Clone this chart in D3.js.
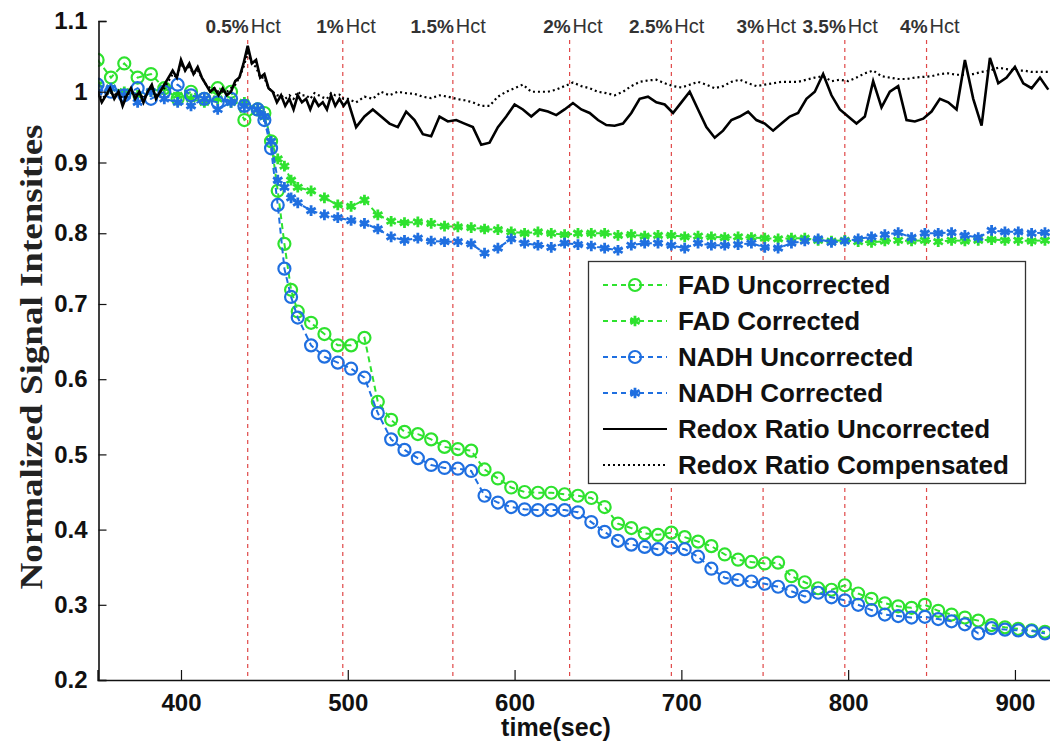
<!DOCTYPE html>
<html>
<head>
<meta charset="utf-8">
<script src="https://cdn.jsdelivr.net/npm/d3@7"></script>
<style>
  body { margin: 0; background: #fff; }
  svg { display: block; font-family: "Liberation Sans", Arial, sans-serif; }
</style>
</head>
<body>
<script>
var width = 1050;
var height = 745;

// sample times of the marker series (sec)
var markTimes = [350,358,366,374,382,390,398,406,414,422,430,438,446,450,454,458,462,466,
  470,478,486,494,502,510,518,526,534,542,550,558,566,574,582,590,598,606,614,622,630,638,
  646,654,662,670,678,686,694,702,710,718,726,734,742,750,758,766,774,782,790,798,806,814,
  822,830,838,846,854,862,870,878,886,894,902,910,918];

var fadUncorrected = [1.045,1.02,1.04,1.02,1.025,1.005,0.99,1.0,0.99,1.005,1.0,0.96,0.975,
  0.97,0.93,0.86,0.785,0.72,
  0.69,0.675,0.66,0.645,0.645,0.655,0.57,0.546,0.53,0.527,0.52,0.51,0.507,0.505,0.48,0.468,
  0.456,0.45,0.449,0.449,0.447,0.445,0.442,0.43,0.408,0.402,0.395,0.393,0.396,0.39,0.384,
  0.378,0.367,0.36,0.357,0.355,0.356,0.338,0.33,0.322,0.32,0.326,0.315,0.308,0.302,0.298,
  0.296,0.3,0.292,0.287,0.283,0.279,0.273,0.27,0.268,0.266,0.264];

var fadCorrected = [1.01,1.005,1.0,0.995,1.0,1.005,0.995,0.99,0.985,0.99,0.985,0.985,0.975,
  0.965,0.93,0.905,0.895,0.875,
  0.865,0.86,0.85,0.84,0.838,0.847,0.826,0.817,0.815,0.816,0.814,0.81,0.809,0.808,0.806,0.805,
  0.802,0.8,0.802,0.8,0.798,0.8,0.8,0.8,0.797,0.798,0.796,0.797,0.797,0.795,0.796,0.795,0.794,
  0.795,0.794,0.793,0.792,0.793,0.793,0.79,0.789,0.79,0.788,0.787,0.789,0.79,0.789,0.79,0.788,
  0.79,0.789,0.79,0.791,0.79,0.79,0.789,0.79];

var nadhUncorrected = [1.01,1.0,0.995,1.005,0.99,1.0,1.01,0.995,0.99,0.985,0.99,0.98,0.975,
  0.96,0.92,0.84,0.75,0.71,
  0.682,0.645,0.63,0.622,0.614,0.602,0.555,0.52,0.506,0.495,0.486,0.482,0.481,0.478,0.445,0.436,
  0.43,0.427,0.426,0.426,0.426,0.423,0.41,0.397,0.385,0.38,0.377,0.374,0.376,0.374,0.364,0.348,
  0.336,0.333,0.331,0.328,0.324,0.318,0.311,0.316,0.31,0.306,0.3,0.293,0.287,0.285,0.283,0.284,
  0.281,0.278,0.274,0.262,0.269,0.267,0.266,0.265,0.262];

var nadhCorrected = [1.0,1.005,0.995,0.985,1.0,0.99,0.985,0.98,0.99,0.975,0.985,0.98,0.975,
  0.965,0.93,0.875,0.865,0.85,
  0.843,0.832,0.826,0.822,0.818,0.814,0.806,0.795,0.79,0.793,0.789,0.788,0.788,0.785,0.772,0.779,
  0.792,0.786,0.783,0.78,0.786,0.784,0.782,0.779,0.776,0.783,0.786,0.786,0.783,0.779,0.786,0.783,
  0.783,0.784,0.786,0.78,0.779,0.786,0.789,0.792,0.787,0.789,0.792,0.795,0.798,0.801,0.794,0.8,
  0.8,0.801,0.797,0.794,0.804,0.802,0.802,0.8,0.801];

// redox ratio traces: every 2.5 sec up to 500, then every 5 sec
var redoxTimes = [350,352.5,355,357.5,360,362.5,365,367.5,370,372.5,375,377.5,380,382.5,385,387.5,
  390,392.5,395,397.5,400,402.5,405,407.5,410,412.5,415,417.5,420,422.5,425,427.5,430,432.5,435,
  437.5,440,442.5,445,447.5,450,452.5,455,457.5,460,462.5,465,467.5,470,472.5,475,477.5,480,482.5,
  485,487.5,490,492.5,495,497.5,500,
  505,510,515,520,525,530,535,540,545,550,555,560,565,570,575,580,585,590,595,600,605,610,615,620,
  625,630,635,640,645,650,655,660,665,670,675,680,685,690,695,700,705,710,715,720,725,730,735,740,
  745,750,755,760,765,770,775,780,785,790,795,800,805,810,815,820,825,830,835,840,845,850,855,860,
  865,870,875,880,885,890,895,900,905,910,915,920];

var redoxUncorrected = [1.0,0.985,0.995,1.005,0.99,1.0,0.98,0.995,1.005,0.99,1.0,0.985,1.0,1.01,
  0.99,1.0,1.01,1.02,1.03,1.02,1.045,1.03,1.04,1.025,1.035,1.02,1.01,1.0,1.005,0.995,1.005,0.995,
  1.0,1.015,1.02,1.04,1.065,1.04,1.045,1.02,1.025,1.005,1.0,0.985,0.995,0.98,0.99,0.975,0.995,0.985,
  0.99,0.975,0.99,0.98,0.985,0.975,0.995,0.98,0.99,0.98,0.988,
  0.95,0.965,0.975,0.965,0.955,0.95,0.972,0.96,0.94,0.937,0.965,0.958,0.96,0.955,0.95,0.925,0.928,
  0.95,0.965,0.982,0.975,0.965,0.975,0.972,0.967,0.975,0.984,0.975,0.97,0.96,0.953,0.952,0.955,0.97,
  0.99,0.993,0.985,0.982,0.97,0.985,1.0,0.975,0.95,0.935,0.945,0.96,0.965,0.972,0.96,0.955,0.945,
  0.955,0.965,0.97,0.99,1.0,1.025,0.995,0.975,0.965,0.955,0.965,1.015,0.978,1.0,1.008,0.96,0.958,
  0.962,0.972,0.99,0.985,0.975,1.045,0.99,0.952,1.048,1.012,1.02,1.035,1.012,1.005,1.02,1.003];

var redoxCompensated = [1.0,0.99,0.995,1.0,0.995,1.0,0.99,0.995,1.0,0.995,1.0,0.99,1.0,1.005,0.995,
  1.0,1.005,1.015,1.025,1.02,1.04,1.03,1.035,1.025,1.03,1.02,1.01,1.005,1.005,1.0,1.0,1.0,1.005,1.01,
  1.02,1.035,1.055,1.04,1.035,1.02,1.02,1.005,1.0,0.995,0.995,0.99,0.995,0.99,1.0,0.995,0.995,0.99,
  0.998,0.995,0.992,0.99,0.998,0.995,0.996,0.99,0.99,
  0.985,0.993,0.99,1.0,0.995,1.0,0.998,0.997,0.993,0.991,0.995,0.993,0.99,0.988,0.985,0.98,0.98,
  0.993,1.0,1.005,1.01,1.0,1.0,1.0,1.003,1.008,1.013,1.008,1.005,1.0,0.998,0.995,1.0,1.008,1.014,
  1.016,1.017,1.012,1.008,1.006,1.01,1.014,1.01,1.005,1.008,1.014,1.017,1.012,1.008,1.01,1.012,1.014,
  1.014,1.014,1.017,1.02,1.022,1.015,1.017,1.015,1.02,1.026,1.03,1.022,1.02,1.018,1.018,1.02,1.021,
  1.022,1.025,1.026,1.024,1.024,1.025,1.028,1.03,1.034,1.032,1.03,1.03,1.028,1.028,1.028];

var hctLevels = ["0.5%","1%","1.5%","2%","2.5%","3%","3.5%","4%"];
var hctTimes = [440,497,563,633,694,749,798,847];

var xTicks = [400,500,600,700,800,900];
var yTicks = [0.2,0.3,0.4,0.5,0.6,0.7,0.8,0.9,1.0,1.1];
var yTickLabels = ["0.2","0.3","0.4","0.5","0.6","0.7","0.8","0.9","1","1.1"];

var green = "#2ee22e";
var blue = "#1f6fe0";

var svg = d3.select("body")
            .append("svg")
            .attr("width", width)
            .attr("height", height);

var xScale = d3.scaleLinear()
      .domain([350, 921.5])
      .range([97.6, 1050.8]);

// the scanned figure is a bit uneven vertically, so the scale has a knee at 0.7
var yScale = d3.scaleLinear()
      .domain([0.2, 0.7, 1.1])
      .range([680, 304, 21]);

svg.append("clipPath")
    .attr("id", "plotclip")
  .append("rect")
    .attr("x", 98).attr("y", 0)
    .attr("width", width - 98).attr("height", 681);

// hematocrit markers
var hct = svg.append("g");
hct.selectAll("line")
    .data(hctTimes)
    .join("line")
      .attr("x1", d => xScale(d)).attr("x2", d => xScale(d))
      .attr("y1", 40).attr("y2", 680)
      .attr("stroke", "#e04848")
      .attr("stroke-width", 1.2)
      .attr("stroke-dasharray", "4,4");

var hctText = hct.selectAll("text")
    .data(hctTimes)
    .join("text")
      .attr("y", 33)
      .attr("fill", "#333");
hctText.append("tspan")
    .attr("x", d => xScale(d) + 1)
    .attr("text-anchor", "end")
    .style("font-weight", "bold")
    .style("font-size", "19px")
    .text((d, i) => hctLevels[i]);
hctText.append("tspan")
    .attr("x", d => xScale(d) + 3)
    .style("font-size", "20px")
    .text("Hct");

var series = [
  {name: "FAD Uncorrected", values: fadUncorrected, color: green, marker: "circle"},
  {name: "FAD Corrected", values: fadCorrected, color: green, marker: "star"},
  {name: "NADH Uncorrected", values: nadhUncorrected, color: blue, marker: "circle"},
  {name: "NADH Corrected", values: nadhCorrected, color: blue, marker: "star"}
];

var redox = [
  {name: "Redox Ratio Uncorrected", values: redoxUncorrected, dash: null},
  {name: "Redox Ratio Compensated", values: redoxCompensated, dash: "2,3"}
];

var line = d3.line()
    .x(d => xScale(d[0]))
    .y(d => yScale(d[1]));

var star = d3.symbol().type(d3.symbolAsterisk).size(80);

function drawMarker(sel, s) {
  if (s.marker == "circle") {
    sel.append("circle")
        .attr("r", 6)
        .attr("fill", "none")
        .attr("stroke", s.color)
        .attr("stroke-width", 2.2);
  } else {
    sel.append("path")
        .attr("d", star)
        .attr("fill", "none")
        .attr("stroke", s.color)
        .attr("stroke-width", 2.8);
  }
}

var plot = svg.append("g").attr("clip-path", "url(#plotclip)");

series.forEach(function(s) {
  var pts = markTimes.map((t, i) => [t, s.values[i]]);
  var g = plot.append("g");
  g.append("path")
      .attr("d", line(pts))
      .attr("fill", "none")
      .attr("stroke", s.color)
      .attr("stroke-width", 2)
      .attr("stroke-dasharray", "6,4");
  g.selectAll("g")
      .data(pts)
      .join("g")
        .attr("transform", d => `translate(${xScale(d[0])},${yScale(d[1])})`)
        .each(function() { drawMarker(d3.select(this), s); });
});

redox.forEach(function(r) {
  var pts = redoxTimes.map((t, i) => [t, r.values[i]]);
  plot.append("path")
      .attr("d", line(pts))
      .attr("fill", "none")
      .attr("stroke", "#000")
      .attr("stroke-width", r.dash ? 2.2 : 2.6)
      .attr("stroke-dasharray", r.dash);
});

// axes, ticks pointing inward like matlab
var xAxis = d3.axisBottom(xScale)
    .tickValues(xTicks)
    .tickSize(-10)
    .tickPadding(14)
    .tickFormat(d3.format("d"));

var yAxis = d3.axisLeft(yScale)
    .tickValues(yTicks)
    .tickSize(-8)
    .tickPadding(11)
    .tickFormat((d, i) => yTickLabels[i]);

var gx = svg.append("g")
    .attr("transform", "translate(0,680)")
    .call(xAxis);
var gy = svg.append("g")
    .attr("transform", "translate(98.5,0)")
    .call(yAxis);

[gx, gy].forEach(function(g) {
  g.select(".domain").attr("stroke", "#111").attr("stroke-width", 1.6);
  g.selectAll(".tick line").attr("stroke", "#111").attr("stroke-width", 1.2);
  g.selectAll(".tick text")
      .attr("fill", "#111")
      .style("font-family", "'Liberation Sans', Arial, sans-serif")
      .style("font-weight", "bold")
      .style("font-size", "24px");
});

svg.append("text")
    .attr("x", 556)
    .attr("y", 736)
    .attr("text-anchor", "middle")
    .style("font-weight", "bold")
    .style("font-size", "25px")
    .attr("fill", "#111")
    .text("time(sec)");

svg.append("text")
    .attr("transform", "translate(42,357) rotate(-90)")
    .attr("text-anchor", "middle")
    .attr("textLength", 465)
    .attr("lengthAdjust", "spacingAndGlyphs")
    .style("font-family", "'Liberation Serif', 'Times New Roman', serif")
    .style("font-weight", "bold")
    .style("font-size", "32px")
    .attr("fill", "#222")
    .text("Normalized Signal Intensities");

// legend
var legend = svg.append("g");
legend.append("rect")
    .attr("x", 588.5).attr("y", 261.5)
    .attr("width", 437).attr("height", 222)
    .attr("fill", "#fff")
    .attr("stroke", "#333")
    .attr("stroke-width", 1.3);

var legendItems = series.concat(redox.map(r => ({name: r.name, color: "#000", dash: r.dash, black: true})));
legendItems.forEach(function(s, i) {
  var cy = 285 + i * 36;
  var row = legend.append("g");
  row.append("line")
      .attr("x1", 603).attr("x2", 667)
      .attr("y1", cy).attr("y2", cy)
      .attr("stroke", s.color)
      .attr("stroke-width", 2)
      .attr("stroke-dasharray", s.black ? s.dash : "5,4");
  if (!s.black) {
    var m = row.append("g").attr("transform", `translate(635,${cy})`);
    drawMarker(m, s);
  }
  row.append("text")
      .attr("x", 678)
      .attr("y", cy + 9)
      .attr("fill", "#111")
      .style("font-weight", "bold")
      .style("font-size", "26px")
      .text(s.name);
});
</script>
</body>
</html>
